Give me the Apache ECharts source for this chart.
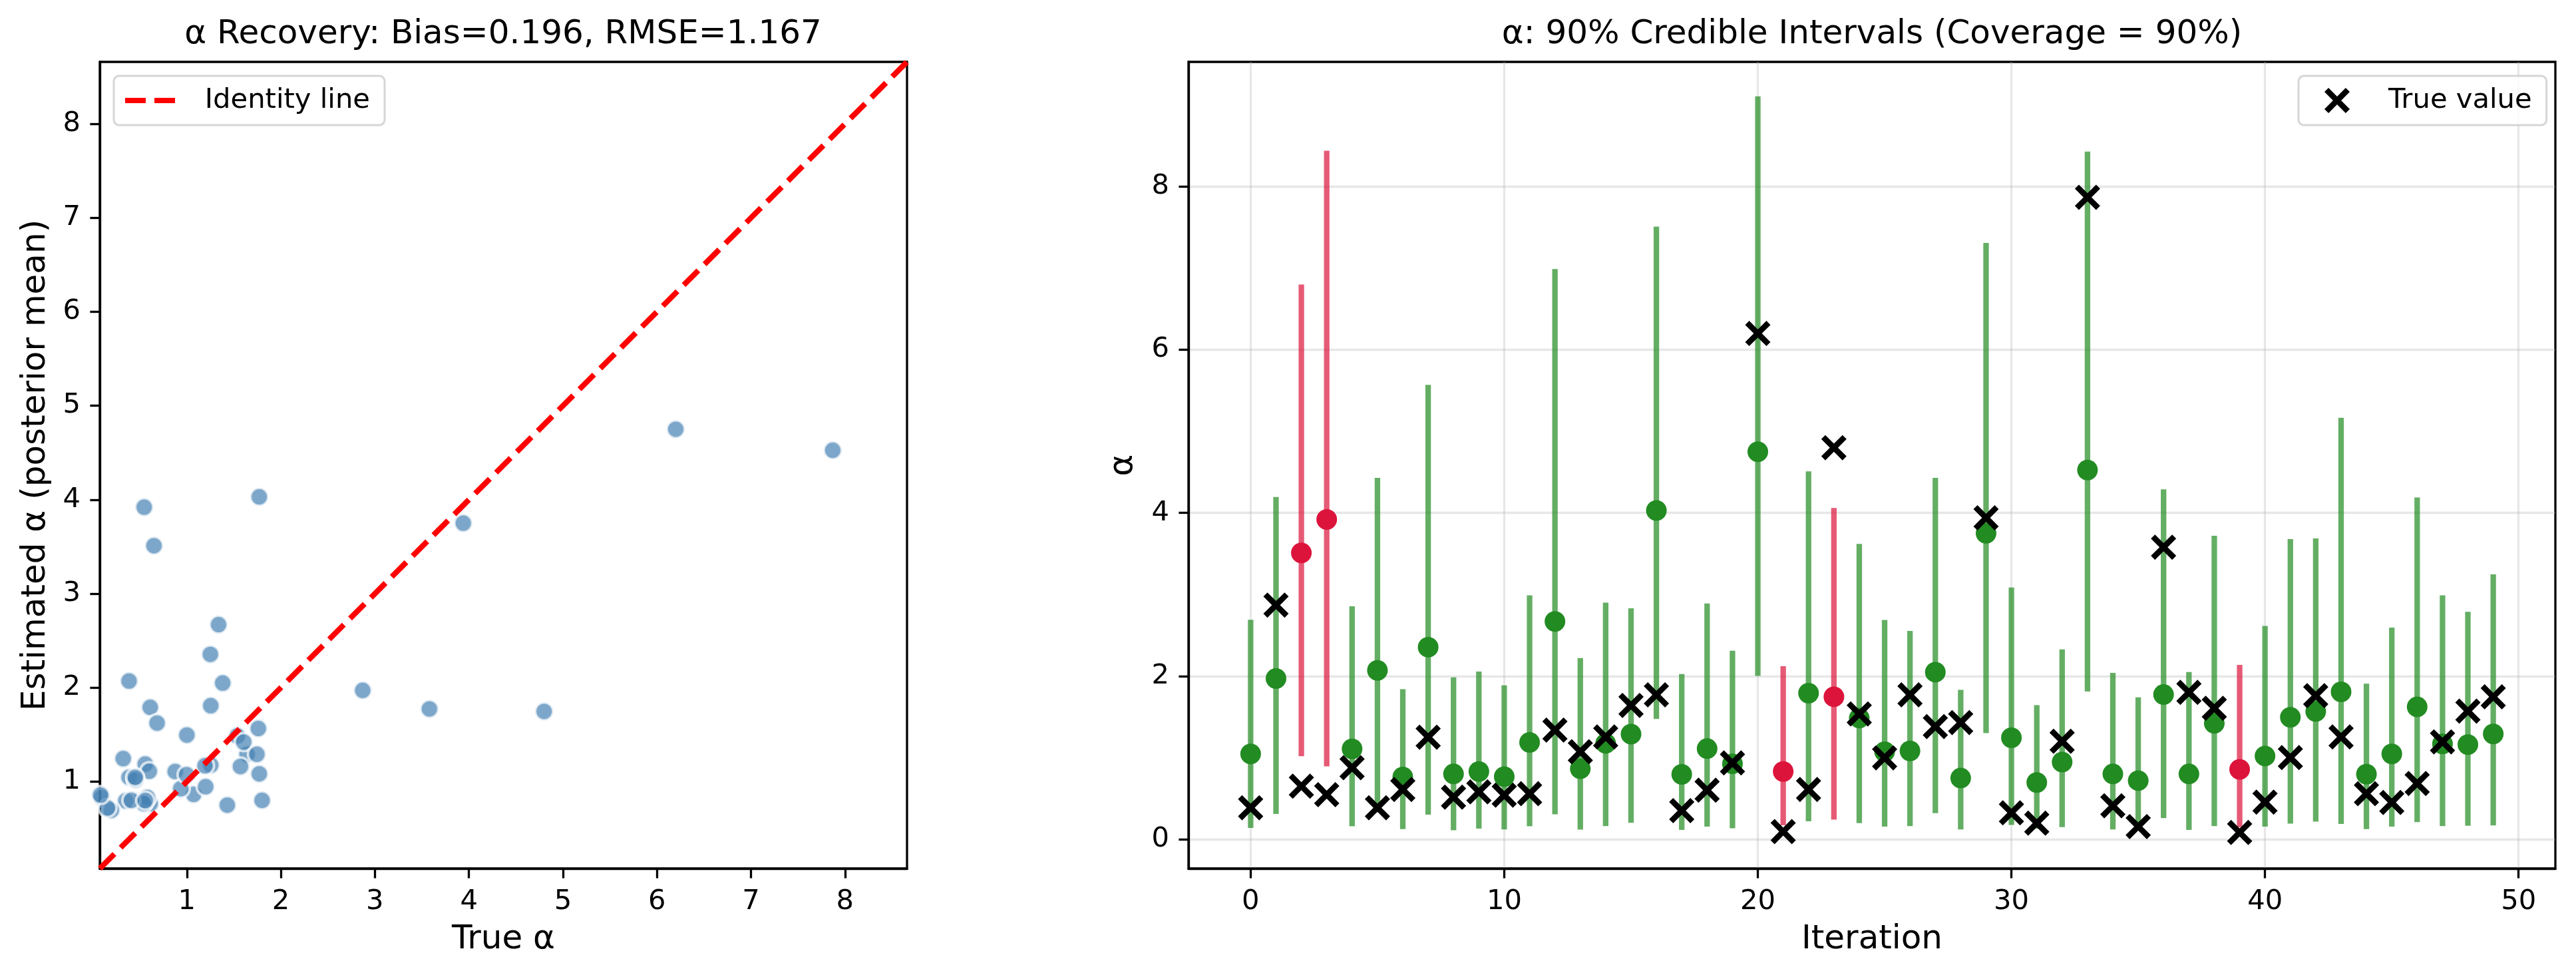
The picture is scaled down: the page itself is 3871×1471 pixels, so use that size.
<!DOCTYPE html>
<html><head><meta charset="utf-8">
<script src="https://cdn.jsdelivr.net/npm/echarts@6/dist/echarts.min.js"></script>
<style>html,body{margin:0;padding:0;background:#fff}#c{width:3871px;height:1471px}</style>
</head><body><div id="c"></div>
<script>
// ---- data ----
const iterations = [0,1,2,3,4,5,6,7,8,9,10,11,12,13,14,15,16,17,18,19,20,21,22,23,24,25,26,27,28,29,30,31,32,33,34,35,36,37,38,39,40,41,42,43,44,45,46,47,48,49];
const trueAlpha = [0.385,2.87,0.65,0.546,0.876,0.385,0.61,1.25,0.515,0.58,0.54,0.557,1.337,1.072,1.254,1.64,1.77,0.35,0.60,0.935,6.20,0.093,0.61,4.80,1.536,0.997,1.77,1.381,1.43,3.94,0.323,0.196,1.2,7.87,0.41,0.155,3.58,1.80,1.605,0.082,0.454,1.0,1.76,1.254,0.557,0.45,0.683,1.193,1.57,1.745];
const estAlpha = [1.045,1.97,3.51,3.92,1.107,2.07,0.763,2.354,0.80,0.83,0.766,1.186,2.67,0.863,1.175,1.289,4.03,0.794,1.11,0.924,4.75,0.83,1.79,1.746,1.485,1.072,1.082,2.048,0.749,3.75,1.244,0.694,0.945,4.526,0.80,0.718,1.773,0.80,1.42,0.856,1.02,1.495,1.565,1.807,0.797,1.045,1.622,1.168,1.16,1.29];
const lowerCI = [0.137,0.31,1.017,0.893,0.158,0.33,0.124,0.30,0.11,0.13,0.12,0.158,0.306,0.117,0.16,0.2,1.474,0.113,0.155,0.134,2.003,0.17,0.22,0.24,0.196,0.155,0.16,0.32,0.12,1.30,0.175,0.127,0.148,1.81,0.12,0.14,0.258,0.113,0.16,0.145,0.155,0.19,0.216,0.186,0.124,0.155,0.21,0.16,0.165,0.168];
const upperCI = [2.69,4.196,6.80,8.44,2.856,4.43,1.84,5.57,1.983,2.055,1.887,2.99,6.99,2.22,2.90,2.83,7.51,2.024,2.89,2.31,9.107,2.12,4.51,4.06,3.62,2.687,2.553,4.43,1.83,7.31,3.086,1.643,2.326,8.43,2.04,1.74,4.29,2.05,3.72,2.137,2.615,3.68,3.687,5.166,1.907,2.594,4.19,2.99,2.787,3.247];
const identityRange = [0.074, 8.66];
const leftTicks = [1,2,3,4,5,6,7,8];
const rightXTicks = [0,10,20,30,40,50];
const rightYTicks = [0,2,4,6,8];
const leftTitle = 'α Recovery: Bias=0.196, RMSE=1.167';
const rightTitle = 'α: 90% Credible Intervals (Coverage = 90%)';

// ---- styling ----
const FONT = 'DejaVu Sans';
const GREEN = 'rgb(34,139,34)', GREEN_A = 'rgba(34,139,34,0.7)';
const RED = 'rgb(220,20,60)', RED_A = 'rgba(220,20,60,0.7)';
const XPATH = 'path://M16,0L50,34L84,0L100,16L66,50L100,84L84,100L50,66L16,100L0,84L34,50L0,16Z';
const DASHPATH = 'path://M0,0H31V8H0Z M44,0H75V8H44Z';

const covered = iterations.map(i => trueAlpha[i] >= lowerCI[i] && trueAlpha[i] <= upperCI[i]);

function valueAxis(gridIndex, min, max, ticks, name, nameGap, showSplit) {
  return {
    type: 'value', gridIndex, min, max,
    name, nameLocation: 'middle', nameGap,
    nameTextStyle: { fontFamily: FONT, fontSize: 50, color: '#000' },
    axisLine: { show: true, onZero: false, lineStyle: { color: '#000', width: 3.3 } },
    axisTick: { show: true, length: 14.6, lineStyle: { color: '#000', width: 3.3 }, customValues: ticks },
    axisLabel: { show: true, margin: 29, fontFamily: FONT, fontSize: 41.7, color: '#000', customValues: ticks },
    splitLine: { show: showSplit, lineStyle: { color: 'rgba(176,176,176,0.3)', width: 3.3 } },
    minorTick: { show: false }
  };
}

const chart = echarts.init(document.getElementById('c'), null, { renderer: 'canvas' });
chart.setOption({
  animation: false,
  backgroundColor: '#fff',
  title: [
    { text: leftTitle, left: 756, top: 27, textAlign: 'center', padding: 0,
      textStyle: { fontFamily: FONT, fontSize: 50, fontWeight: 'normal', color: '#000' } },
    { text: rightTitle, left: 2813, top: 27, textAlign: 'center', padding: 0,
      textStyle: { fontFamily: FONT, fontSize: 50, fontWeight: 'normal', color: '#000' } }
  ],
  legend: [
    { data: ['Identity line'], left: 171, top: 114, orient: 'vertical',
      padding: [16, 22, 16, 17], itemWidth: 75, itemHeight: 8, icon: DASHPATH,
      formatter: n => '   ' + n,
      itemStyle: { color: 'red', opacity: 1 },
      backgroundColor: 'rgba(255,255,255,0.8)', borderColor: 'rgba(204,204,204,0.8)', borderWidth: 3, borderRadius: 8,
      textStyle: { fontFamily: FONT, fontSize: 41.7, color: '#000' } },
    { data: ['True value'], left: 3454, top: 114, orient: 'vertical',
      padding: [16, 22, 16, 39], itemWidth: 38, itemHeight: 38, icon: XPATH,
      formatter: n => '    ' + n,
      itemStyle: { color: '#000', opacity: 1 },
      backgroundColor: 'rgba(255,255,255,0.8)', borderColor: 'rgba(204,204,204,0.8)', borderWidth: 3, borderRadius: 8,
      textStyle: { fontFamily: FONT, fontSize: 41.7, color: '#000' } }
  ],
  grid: [
    { left: 150, top: 93, right: 3871 - 1363, bottom: 1471 - 1305, show: true, borderColor: '#000', borderWidth: 3.3, backgroundColor: 'transparent' },
    { left: 1786, top: 93, right: 3871 - 3840, bottom: 1471 - 1305, show: true, borderColor: '#000', borderWidth: 3.3, backgroundColor: 'transparent' }
  ],
  xAxis: [
    valueAxis(0, identityRange[0], identityRange[1], leftTicks, 'True α', 82, false),
    valueAxis(1, -2.45, 51.45, rightXTicks, 'Iteration', 82, true)
  ],
  yAxis: [
    valueAxis(0, identityRange[0], identityRange[1], leftTicks, 'Estimated α (posterior mean)', 71, false),
    valueAxis(1, -0.36, 9.53, rightYTicks, 'α', 73, true)
  ],
  series: [
    {
      name: 'Recovery', type: 'scatter', xAxisIndex: 0, yAxisIndex: 0, clip: true,
      symbol: 'circle', symbolSize: 27,
      itemStyle: { color: 'rgb(70,130,180)', opacity: 0.7, borderColor: '#fff', borderWidth: 4 },
      data: iterations.map(i => [trueAlpha[i], estAlpha[i]]),
      z: 2
    },
    {
      name: 'Identity line', type: 'line', xAxisIndex: 0, yAxisIndex: 0, clip: true,
      showSymbol: false, symbol: 'none',
      lineStyle: { color: 'red', width: 8.3, type: [31, 13.3] },
      itemStyle: { color: 'red' },
      data: [[identityRange[0], identityRange[0]], [identityRange[1], identityRange[1]]],
      z: 3
    },
    {
      name: 'CI', type: 'custom', xAxisIndex: 1, yAxisIndex: 1,
      renderItem: function (params, api) {
        const x = api.value(0), lo = api.value(1), hi = api.value(2), cov = api.value(3);
        const p1 = api.coord([x, lo]), p2 = api.coord([x, hi]);
        return { type: 'line', shape: { x1: p1[0], y1: p1[1], x2: p2[0], y2: p2[1] },
                 style: { stroke: cov ? GREEN_A : RED_A, lineWidth: 8.3, lineCap: 'butt' } };
      },
      encode: { x: 0, y: [1, 2] },
      data: iterations.map(i => [iterations[i], lowerCI[i], upperCI[i], covered[i] ? 1 : 0]),
      z: 2
    },
    {
      name: 'Posterior mean', type: 'scatter', xAxisIndex: 1, yAxisIndex: 1,
      symbol: 'circle', symbolSize: 31,
      itemStyle: { opacity: 1 },
      data: iterations.map(i => ({ value: [iterations[i], estAlpha[i]], itemStyle: { color: covered[i] ? GREEN : RED, opacity: 1 } })),
      z: 3
    },
    {
      name: 'True value', type: 'scatter', xAxisIndex: 1, yAxisIndex: 1,
      symbol: XPATH, symbolSize: 38,
      itemStyle: { color: '#000', opacity: 1 },
      data: iterations.map(i => [iterations[i], trueAlpha[i]]),
      z: 4
    }
  ]
});
</script>
</body></html>
